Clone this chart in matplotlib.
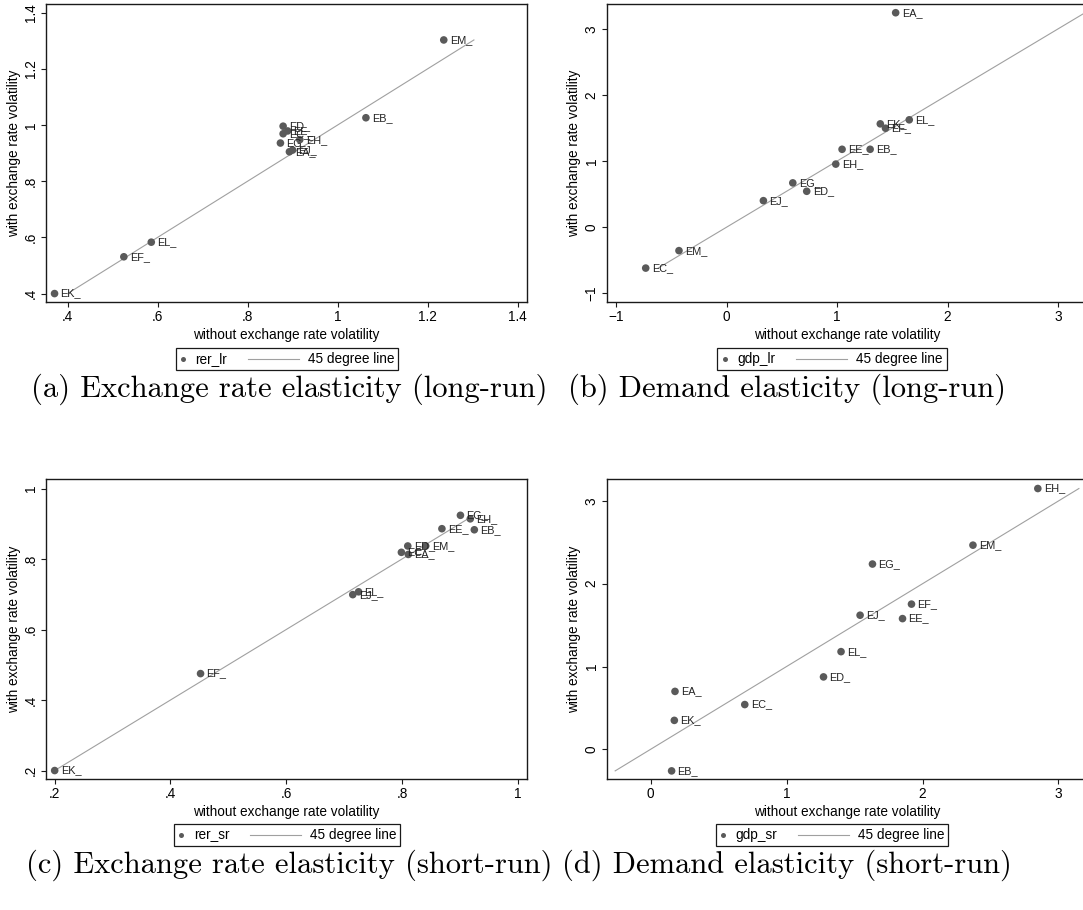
import matplotlib
matplotlib.use("Agg")
import matplotlib.pyplot as plt
from matplotlib.ticker import FixedLocator, FuncFormatter
from matplotlib.offsetbox import DrawingArea, TextArea, HPacker, AnchoredOffsetbox
from matplotlib.lines import Line2D

W, H = 1083, 910

# ---- long-run exchange-rate elasticity ----
rer_lr_names = ["EM", "EB", "ED", "EE", "EC", "EG", "EH", "EA", "EJ", "EL", "EF", "EK"]
rer_lr_without = [1.236, 1.063, 0.879, 0.889, 0.879, 0.873, 0.916, 0.893, 0.900, 0.586, 0.525, 0.371]
rer_lr_with = [1.303, 1.026, 0.996, 0.979, 0.969, 0.936, 0.948, 0.905, 0.911, 0.583, 0.531, 0.400]

# ---- long-run demand elasticity ----
gdp_lr_names = ["EA", "EL", "EK", "EF", "EE", "EB", "EH", "EG", "ED", "EJ", "EM", "EC"]
gdp_lr_without = [1.530, 1.653, 1.391, 1.438, 1.045, 1.299, 0.988, 0.599, 0.725, 0.333, -0.431, -0.732]
gdp_lr_with = [3.244, 1.624, 1.563, 1.497, 1.178, 1.178, 0.954, 0.670, 0.543, 0.401, -0.355, -0.619]

# ---- short-run exchange-rate elasticity ----
rer_sr_names = ["EG", "EH", "EE", "EB", "ED", "EM", "EC", "EA", "EL", "EJ", "EF", "EK"]
rer_sr_without = [0.901, 0.918, 0.869, 0.925, 0.810, 0.841, 0.799, 0.811, 0.725, 0.715, 0.452, 0.200]
rer_sr_with = [0.924, 0.914, 0.886, 0.883, 0.837, 0.837, 0.819, 0.813, 0.707, 0.699, 0.475, 0.200]

# ---- short-run demand elasticity ----
gdp_sr_names = ["EH", "EM", "EG", "EF", "EJ", "EE", "EL", "ED", "EA", "EC", "EK", "EB"]
gdp_sr_without = [2.848, 2.371, 1.632, 1.919, 1.541, 1.853, 1.401, 1.272, 0.180, 0.693, 0.175, 0.155]
gdp_sr_with = [3.150, 2.466, 2.238, 1.754, 1.620, 1.579, 1.180, 0.875, 0.700, 0.541, 0.350, -0.260]

ticks_rer_lr = [0.4, 0.6, 0.8, 1.0, 1.2, 1.4]
ticks_gdp_lr = [-1, 0, 1, 2, 3]
ticks_rer_sr = [0.2, 0.4, 0.6, 0.8, 1.0]
ticks_gdp_sr = [0, 1, 2, 3]

captions = [
    "(a) Exchange rate elasticity (long-run)",
    "(b) Demand elasticity (long-run)",
    "(c) Exchange rate elasticity (short-run)",
    "(d) Demand elasticity (short-run)",
]

SANS = "Liberation Sans"
DOT = "#5a5a5a"
LINE = "#a0a0a0"
FRAME = "#1a1a1a"
TXT = 9.8


def stata_fmt(v, pos):
    s = f"{v:g}"
    if s.startswith("0."):
        s = s[1:]
    elif s.startswith("-0."):
        s = "-" + s[2:]
    return s.replace("-", "\u2212")


def px_axes(fig, x0, y0, x1, y1):
    return fig.add_axes([x0 / W, 1 - y1 / H, (x1 - x0) / W, (y1 - y0) / H])


def stata_legend(fig, key, cx, cy):
    """Boxed two-key legend: small dot + series name, grey line + '45 degree line'."""
    dot = DrawingArea(5, 10, 0, 0)
    dot.add_artist(Line2D([2.5], [5], marker="o", markersize=3.6, color=DOT,
                          markeredgewidth=0))
    seg = DrawingArea(45, 10, 0, 0)
    seg.add_artist(Line2D([8.5, 45], [5, 5], color=LINE, lw=0.8))
    tprops = dict(family=SANS, size=TXT, color="black")
    row = HPacker(children=[dot, TextArea(key, textprops=tprops), seg,
                            TextArea("45 degree line", textprops=tprops)],
                  align="center", pad=0, sep=6.5)
    box = AnchoredOffsetbox(loc="center", child=row, pad=0.3, borderpad=0,
                            frameon=True, prop=dict(size=TXT),
                            bbox_to_anchor=(cx / W, 1 - cy / H),
                            bbox_transform=fig.transFigure)
    box.patch.set_boxstyle("square", pad=0)
    box.patch.set_edgecolor(FRAME)
    box.patch.set_linewidth(0.9)
    box.patch.set_facecolor("white")
    fig.add_artist(box)


fig = plt.figure(figsize=(W / 100, H / 100), dpi=100)

panels = [
    dict(names=rer_lr_names, x=rer_lr_without, y=rer_lr_with, ticks=ticks_rer_lr,
         box=(46, 4, 527, 302), xlim=(0.352, 1.421), ylim=(0.370, 1.431),
         key="rer_lr", leg=(287, 359), cap=(289, 389)),
    dict(names=gdp_lr_names, x=gdp_lr_without, y=gdp_lr_with, ticks=ticks_gdp_lr,
         box=(606.6, 4, 1087.6, 302), xlim=(-1.086, 3.267), ylim=(-1.132, 3.376),
         key="gdp_lr", leg=(832, 359), cap=(787, 389)),
    dict(names=rer_sr_names, x=rer_sr_without, y=rer_sr_with, ticks=ticks_rer_sr,
         box=(46, 479, 527, 779), xlim=(0.185, 1.016), ylim=(0.176, 1.027),
         key="rer_sr", leg=(287, 835), cap=(289, 865)),
    dict(names=gdp_sr_names, x=gdp_sr_without, y=gdp_sr_with, ticks=ticks_gdp_sr,
         box=(606.6, 479, 1087.6, 779), xlim=(-0.323, 3.214), ylim=(-0.358, 3.265),
         key="gdp_sr", leg=(832, 835), cap=(787, 865)),
]

for p, cap in zip(panels, captions):
    ax = px_axes(fig, *p["box"])
    ax.set_xlim(*p["xlim"])
    ax.set_ylim(*p["ylim"])

    ax.scatter(p["x"], p["y"], s=30, color=DOT, edgecolors="none", zorder=3)
    for name, xv, yv in zip(p["names"], p["x"], p["y"]):
        ax.annotate(name + "_", (xv, yv), xytext=(4.3, 0), textcoords="offset points",
                    ha="left", va="center", fontsize=7.8, family=SANS,
                    color="#222222", zorder=4)

    # 45 degree reference line spanning the range of the vertical variable
    lo, hi = min(p["y"]), max(p["y"])
    ax.plot([lo, hi], [lo, hi], color=LINE, lw=0.8, zorder=2)

    for side in ("top", "right", "left", "bottom"):
        ax.spines[side].set_color(FRAME)
        ax.spines[side].set_linewidth(1.0)
    ax.xaxis.set_major_locator(FixedLocator(p["ticks"]))
    ax.yaxis.set_major_locator(FixedLocator(p["ticks"]))
    ax.xaxis.set_major_formatter(FuncFormatter(stata_fmt))
    ax.yaxis.set_major_formatter(FuncFormatter(stata_fmt))
    ax.tick_params(direction="out", length=3.6, width=0.8, color=FRAME,
                   labelsize=TXT, pad=2)
    for lab in ax.get_xticklabels() + ax.get_yticklabels():
        lab.set_family(SANS)
    for lab in ax.get_yticklabels():
        lab.set_rotation(90)
        lab.set_va("center")
    ax.set_xlabel("without exchange rate volatility", fontsize=TXT, family=SANS, labelpad=3)
    ax.set_ylabel("with exchange rate volatility", fontsize=TXT, family=SANS, labelpad=2.5)

    stata_legend(fig, p["key"], *p["leg"])

    cx, cy = p["cap"]
    fig.text(cx / W, 1 - cy / H, cap, ha="center", va="center",
             fontsize=22, family="cmr10")

fig.savefig("out.png", dpi=100, facecolor="white")
